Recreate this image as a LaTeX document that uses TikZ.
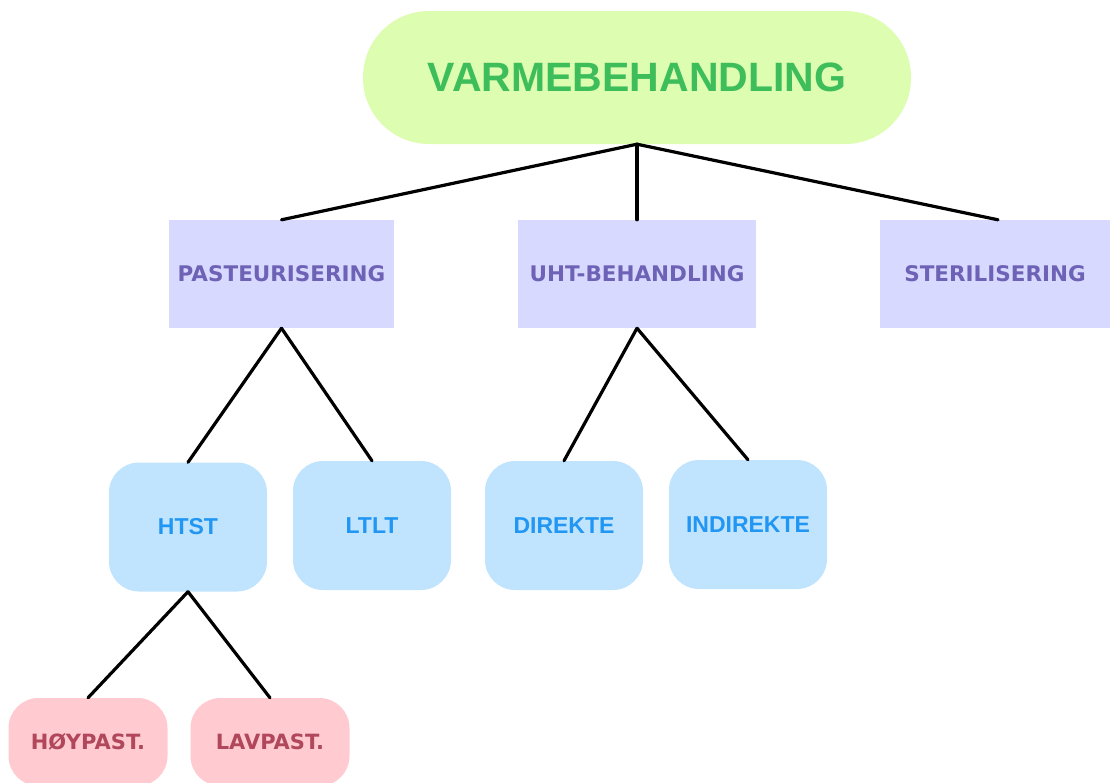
\documentclass[tikz,border=0pt]{standalone}
\usepackage{fontspec}
\newfontfamily\titlefont{Liberation Sans}
\newfontfamily\widefont{DejaVu Sans}
\usetikzlibrary{positioning}

\definecolor{rootfill}{HTML}{DDFDB0}
\definecolor{roottext}{HTML}{3DBE5A}
\definecolor{methodfill}{HTML}{D8D9FE}
\definecolor{methodtext}{HTML}{6E62B6}
\definecolor{typefill}{HTML}{C0E4FE}
\definecolor{typetext}{HTML}{2196F3}
\definecolor{pastfill}{HTML}{FFCBD0}
\definecolor{pasttext}{HTML}{B0475A}

\begin{document}
\begin{tikzpicture}[x=1pt,y=-1pt,line cap=round]
  \tikzset{
    root/.style={fill=rootfill, text=roottext, rounded corners=66pt,
      minimum width=548pt, minimum height=133pt, inner sep=0pt,
      font=\titlefont\bfseries\fontsize{41}{41}\selectfont},
    method/.style={fill=methodfill, text=methodtext,
      minimum height=108pt, inner sep=0pt,
      font=\widefont\bfseries\fontsize{21.5}{21.5}\selectfont},
    kind/.style={fill=typefill, text=typetext, rounded corners=30pt,
      minimum width=158pt, minimum height=129pt, inner sep=0pt,
      font=\titlefont\bfseries\fontsize{23}{23}\selectfont},
    temp/.style={fill=pastfill, text=pasttext, rounded corners=30pt,
      minimum width=159pt, minimum height=88pt, inner sep=0pt,
      font=\widefont\bfseries\fontsize{21}{21}\selectfont},
    branch/.style={line width=3.2pt, black}
  }
  \useasboundingbox (0,0) rectangle (1110,782);

  % Top level
  \node[root] (varme) at (637,77.5) {VARMEBEHANDLING};

  % Treatment methods
  \node[method, minimum width=225pt] (pasteur) at (281.5,274) {PASTEURISERING};
  \node[method, minimum width=238pt] (uht) at (637,274) {UHT-BEHANDLING};
  \node[method, minimum width=230pt] (steril) at (995,274) {STERILISERING};

  % Sub types
  \node[kind] (htst) at (188,527) {HTST};
  \node[kind] (ltlt) at (372,525.5) {LTLT};
  \node[kind] (direkte) at (564,525.5) {DIREKTE};
  \node[kind] (indirekte) at (748,524.5) {INDIREKTE};

  % HTST variants
  \node[temp] (hoy) at (88,742) {HØYPAST.};
  \node[temp] (lav) at (270,742) {LAVPAST.};

  % Connectors
  \draw[branch] (varme.south) -- (pasteur.north);
  \draw[branch] (varme.south) -- (uht.north);
  \draw[branch] (varme.south) -- ([xshift=3pt]steril.north);
  \draw[branch] (pasteur.south) -- (htst.north);
  \draw[branch] (pasteur.south) -- (ltlt.north);
  \draw[branch] (uht.south) -- (direkte.north);
  \draw[branch] (uht.south) -- (indirekte.north);
  \draw[branch] (htst.south) -- (hoy.north);
  \draw[branch] (htst.south) -- (lav.north);
\end{tikzpicture}
\end{document}
